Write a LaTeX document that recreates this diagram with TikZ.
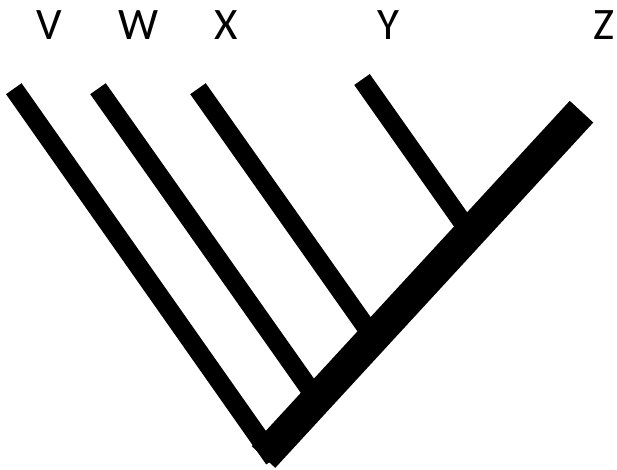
\documentclass[tikz,border=0pt]{standalone}
\usepackage{fontspec}
\setmainfont{Carlito}
\begin{document}
\begin{tikzpicture}[x=1pt,y=-1pt,
  branch/.style={line width=19pt,black},
  trunk/.style={line width=32pt,black},
  taxon/.style={anchor=base,inner sep=0pt,font=\fontsize{45}{54}\selectfont}]
\useasboundingbox (0,0) rectangle (617,469);
% labels
\node[taxon] (lv) at (48.8,39.3) {V};
\node[taxon] (lw) at (138.3,39.3) {W};
\node[taxon] (lx) at (225.8,39.3) {X};
\node[taxon] (ly) at (388,39.3) {Y};
\node[taxon] (lz) at (604,39.3) {Z};
% branch ends
\coordinate (vtop) at (13.8,88.7);
\coordinate (wtop) at (98,88.7);
\coordinate (xtop) at (198,88.7);
\coordinate (ytop) at (362,79.5);
\coordinate (ztop) at (581.5,111.7);
\coordinate (vend) at (274,459);
\coordinate (zend) at (263.5,457);
\coordinate (jw) at (316.8,399.1);
\coordinate (jx) at (373.5,337.6);
\coordinate (jy) at (470,232.8);
% branches
\draw[branch] (vtop) -- (vend);
\draw[branch] (wtop) -- (jw);
\draw[branch] (xtop) -- (jx);
\draw[branch] (ytop) -- (jy);
\draw[trunk] (ztop) -- (zend);
\end{tikzpicture}
\end{document}
